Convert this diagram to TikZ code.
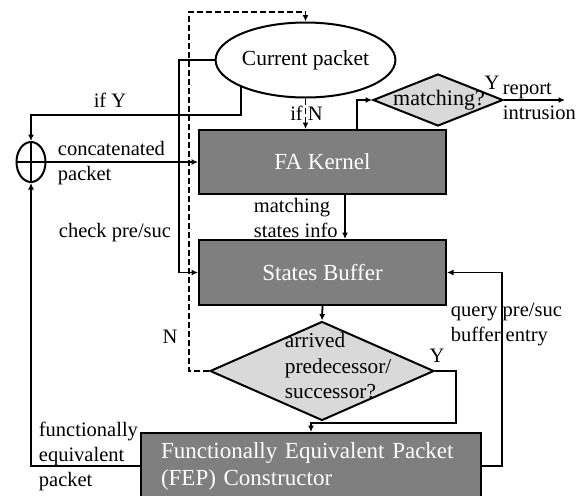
\documentclass[tikz,border=0pt]{standalone}
\usepackage{fontspec}
\setmainfont{Liberation Serif}
\usetikzlibrary{shapes.geometric,arrows.meta}
\definecolor{boxgray}{HTML}{7F7F7F}
\definecolor{decgray}{HTML}{D9D9D9}
\begin{document}
\begin{tikzpicture}[x=1pt,y=-1pt,
  line width=1.8pt,
  every node/.style={font=\fontsize{20.5pt}{25pt}\selectfont},
  arr/.style={-{Latex[length=6.5pt,width=6pt]}},
  dash line/.style={dash pattern=on 6pt off 3pt},
  box/.style={draw, fill=boxgray, text=white, inner sep=0pt, line width=2pt,
              font=\fontsize{23pt}{27pt}\selectfont},
  decision/.style={draw, diamond, fill=decgray, inner sep=0pt, line width=2pt},
  lbl/.style={inner sep=0pt, align=left, anchor=west}
]
\useasboundingbox (0,0) rectangle (582,496);
\clip (0,0) rectangle (582,496);

% main blocks
\node[draw, ellipse, minimum width=157pt, minimum height=75pt, inner sep=0pt, line width=2pt,
      font=\fontsize{21.5pt}{25pt}\selectfont] (cur) at (305.5,60) {Current packet};
\node[box, minimum width=247pt, minimum height=64pt] (fa) at (322.5,162) {FA Kernel};
\node[box, minimum width=247pt, minimum height=65pt] (sb) at (322.5,272.5) {States Buffer};
\node[box, minimum width=340pt, minimum height=66pt, text width=300pt, align=left] (fep) at (311,466) {Functionally Equivalent Packet\\(FEP) Constructor};

% decisions
\node[decision, minimum width=130pt, minimum height=52pt] (match) at (438,100) {};
\node[inner sep=0pt, font=\fontsize{22pt}{25pt}\selectfont] at (439,100) {matching?};
\node[decision, minimum width=224pt, minimum height=99pt] (dec) at (322,371) {};
\node[lbl, font=\fontsize{21.3pt}{25.5pt}\selectfont] at (284,366) {arrived\\predecessor/\\successor?};

% concatenation point
\node[draw, ellipse, minimum width=29pt, minimum height=40pt, inner sep=0pt, line width=2pt] (xor) at (31,162) {};
\draw (xor.north) -- (xor.south);

% helper points for routing
\coordinate (dTop) at (189,12);
\coordinate (cpL) at (179,200);
\coordinate (ifY) at (31,115);
\coordinate (rep) at (565,100);
\coordinate (yR) at (456,423);
\coordinate (qR) at (502,300);

% labels
\node[inner sep=0pt] at (306.5,113) {if N};
\node[inner sep=0pt] at (110,100) {if Y};
\node[lbl] at (57,163.5) {concatenated\\packet};
\node[lbl] at (58,233) {check pre/suc};
\node[lbl] at (253,217.5) {matching\\states info};
\node[inner sep=0pt] at (492,83) {Y};
\node[lbl] at (502,101.5) {report\\intrusion};
\node[inner sep=0pt] at (170,337) {N};
\node[inner sep=0pt] at (437,356) {Y};
\node[lbl] at (450,324.5) {query pre/suc\\buffer entry};
\node[lbl] at (38,456) {functionally\\equivalent\\packet};

% connectors
\draw[arr, dash line] (dec.west) -| (dTop) -| (cur.north);
\draw[arr, dash line] (cur.south) -- (cur.south |- fa.north);
\draw[arr] (cur.west) -| (cpL) |- (sb.west);
\draw[arr] (cur.south west) |- (ifY) -- (xor.north);
\draw[arr] (xor.west) -- (fa.west);
\draw[arr] ([xshift=34.5pt]fa.north) |- (match.west);
\draw[arr] (match.east) -- (rep);
\draw[arr] ([xshift=22.5pt]fa.south) -- ([xshift=22.5pt]sb.north);
\draw[arr] (sb.south) -- (dec.north);
\draw[arr] (dec.east) -| (yR) -| (fep.north);
\draw[arr] (fep.east) -| (qR) |- (sb.east);
\draw[arr] (fep.west) -| (xor.south);
\end{tikzpicture}
\end{document}
